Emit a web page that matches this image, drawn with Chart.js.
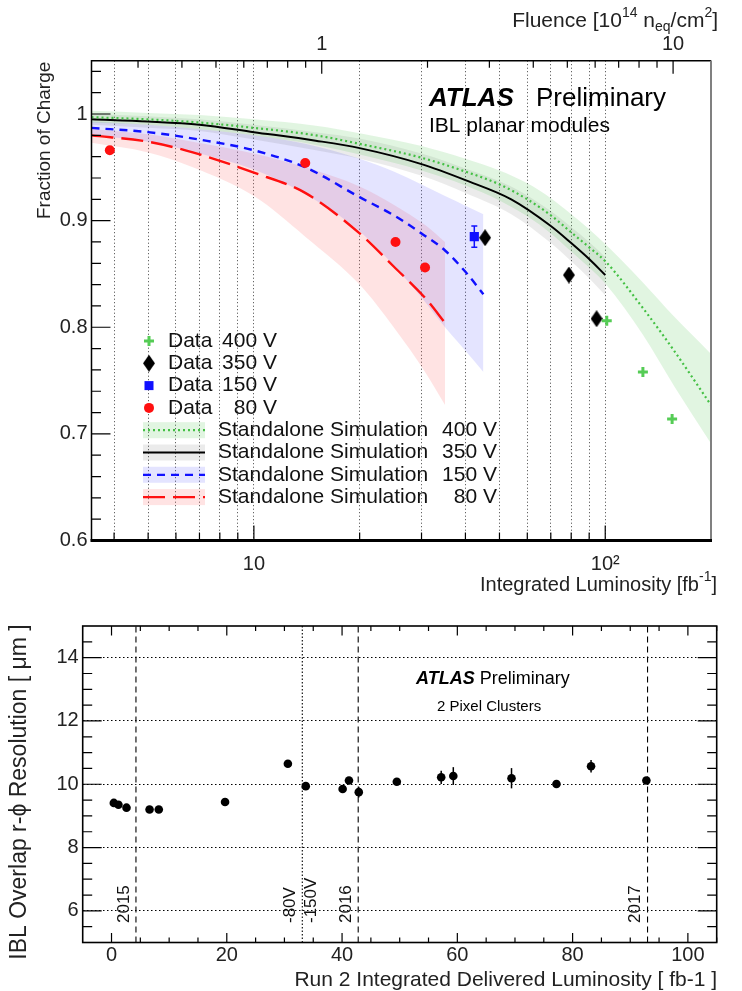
<!DOCTYPE html>
<html>
<head>
<meta charset="utf-8">
<script src="https://cdn.jsdelivr.net/npm/chart.js@4.4.0/dist/chart.umd.min.js"></script>
<style>
  html, body { margin: 0; padding: 0; background: #fff; }
  #wrap { position: relative; width: 742px; height: 991px; }
  canvas { position: absolute; left: 0; }
  #topChart { top: 0; }
  #botChart { top: 600px; }
</style>
</head>
<body>
<div id="wrap">
  <canvas id="topChart" width="742" height="600"></canvas>
  <canvas id="botChart" width="742" height="391"></canvas>
</div>
<script>
const FONT = '"Liberation Sans", Arial, Helvetica, sans-serif';
Chart.defaults.font.family = FONT;
Chart.defaults.color = '#000';
Chart.defaults.animation = false;

// ---------- top panel data (fraction of charge vs luminosity) ----------
const lumiPerFluence = 15.6;           // fb-1 per 1e14 neq/cm2
const lumiRange = [3.45, 200];
const chargeRange = [0.6, 1.05];
const lumiGrid = [4, 5, 6, 7, 8, 9, 10, 20, 30, 40, 50, 60, 70, 80, 90, 100, 200];
const chargeTicks = [0.6, 0.7, 0.8, 0.9, 1.0];
const fluenceLabels = [1, 10];
const fluenceMinor = [0.3, 0.4, 0.5, 0.6, 0.7, 0.8, 0.9, 2, 3, 4, 5, 6, 7, 8, 9];

const data400L = [101, 128, 155];
const data400Q = [0.806, 0.758, 0.714];
const data350L = [45.5, 78.8, 94.5];
const data350Q = [0.884, 0.849, 0.808];
const data150L = [42.4];
const data150Q = [0.885];
const data150Err = [0.010];
const data80L = [3.89, 14.0, 25.3, 30.7];
const data80Q = [0.966, 0.954, 0.880, 0.856];

const sim400L  = [3.45, 5, 7, 10, 15, 20, 30, 40, 50, 60, 70, 80, 90, 100, 128, 157, 200];
const sim400Q  = [0.997, 0.995, 0.992, 0.987, 0.980, 0.972, 0.959, 0.946, 0.934, 0.920, 0.905, 0.889, 0.875, 0.862, 0.818, 0.778, 0.727];
const sim400Hi = [1.003, 1.001, 0.999, 0.995, 0.989, 0.982, 0.970, 0.958, 0.947, 0.935, 0.921, 0.906, 0.892, 0.878, 0.842, 0.810, 0.775];
const sim400Lo = [0.992, 0.990, 0.986, 0.980, 0.971, 0.962, 0.947, 0.933, 0.919, 0.904, 0.888, 0.871, 0.856, 0.841, 0.793, 0.745, 0.691];

const sim350L  = [3.45, 5, 7, 10, 15, 20, 30, 40, 54, 70, 80, 90, 100];
const sim350Q  = [0.995, 0.993, 0.990, 0.983, 0.975, 0.968, 0.953, 0.938, 0.920, 0.895, 0.879, 0.864, 0.849];
const sim350Hi = [1.000, 0.998, 0.995, 0.990, 0.983, 0.977, 0.963, 0.949, 0.932, 0.909, 0.894, 0.880, 0.866];
const sim350Lo = [0.990, 0.987, 0.984, 0.976, 0.966, 0.958, 0.942, 0.926, 0.906, 0.879, 0.862, 0.846, 0.830];

const sim150L  = [3.45, 5, 7, 10, 14, 20, 25, 30, 35, 40, 45];
const sim150Q  = [0.987, 0.983, 0.976, 0.966, 0.950, 0.922, 0.905, 0.888, 0.872, 0.852, 0.831];
const sim150Hi = [0.993, 0.990, 0.986, 0.980, 0.972, 0.958, 0.946, 0.934, 0.923, 0.914, 0.906];
const sim150Lo = [0.980, 0.974, 0.963, 0.948, 0.925, 0.890, 0.858, 0.828, 0.800, 0.778, 0.758];

const sim80L  = [3.45, 5, 6.7, 10, 14, 20, 25, 31, 35];
const sim80Q  = [0.980, 0.974, 0.964, 0.945, 0.926, 0.888, 0.857, 0.826, 0.804];
const sim80Hi = [0.986, 0.981, 0.974, 0.963, 0.950, 0.932, 0.915, 0.895, 0.880];
const sim80Lo = [0.973, 0.964, 0.950, 0.923, 0.885, 0.840, 0.800, 0.756, 0.727];

// ---------- bottom panel data (IBL overlap resolution) ----------
const run2Lumi = [0.4, 1.2, 2.6, 6.6, 8.2, 19.7, 30.6, 33.7, 40.1, 41.2, 42.9, 49.5, 57.2, 59.3, 69.4, 77.2, 83.2, 92.8];
const resolution = [9.41, 9.35, 9.26, 9.20, 9.20, 9.44, 10.65, 9.94, 9.85, 10.12, 9.75, 10.08, 10.22, 10.26, 10.19, 10.01, 10.57, 10.12];
const resolutionErr = [0.05, 0.05, 0.05, 0.05, 0.05, 0.05, 0.06, 0.07, 0.07, 0.08, 0.17, 0.10, 0.21, 0.28, 0.32, 0.06, 0.20, 0.08];
const run2Range = [-5, 105];
const resRange = [5, 15];
const run2Ticks = [0, 20, 40, 60, 80, 100];
const resTicks = [6, 8, 10, 12, 14];
const eventLumi = [4.24, 33.1, 42.8, 93.0];
const eventText = ['2015', '-80V', '-150V', '2016', '2017'];
const eventTextAt = [4.24, 33.1, 33.1, 42.8, 93.0];
const eventTextSide = [-1, -1, 1, -1, -1];

const pts = (xs, ys) => xs.map((x, i) => ({ x: x, y: ys[i] }));

// tall diamond like ROOT marker 33
const diamond = document.createElement('canvas');
diamond.width = 12; diamond.height = 17;
(function () {
  const c = diamond.getContext('2d');
  c.fillStyle = '#000';
  c.beginPath(); c.moveTo(6, 0); c.lineTo(12, 8.5); c.lineTo(6, 17); c.lineTo(0, 8.5); c.closePath(); c.fill();
})();

const GREEN = '#44c044', GREENBAND = 'rgba(90,200,90,0.18)';
const GRAYBAND = 'rgba(0,0,0,0.08)';
const BLUE = '#1010ff', BLUEBAND = 'rgba(90,90,255,0.16)';
const RED = '#ff1010', REDBAND = 'rgba(255,90,90,0.17)';

function band(L, hi, lo, color) {
  return [
    { data: pts(L, hi), borderWidth: 0, pointRadius: 0, fill: '+1', backgroundColor: color, order: 3, cubicInterpolationMode: 'monotone' },
    { data: pts(L, lo), borderWidth: 0, pointRadius: 0, fill: false, order: 3, cubicInterpolationMode: 'monotone' }
  ];
}
function simLine(L, q, color, dash, w) {
  return { data: pts(L, q), borderColor: color, borderWidth: w, borderDash: dash, pointRadius: 0, fill: false, order: 2, cubicInterpolationMode: 'monotone' };
}

// draw "text" with super/subscripts: parts = [text, scale, dy]
function richText(ctx, parts, x, y, align, size) {
  let w = 0;
  parts.forEach(p => { ctx.font = Math.round(size * (p[1] || 1)) + 'px ' + FONT; w += ctx.measureText(p[0]).width; });
  let cx = align === 'right' ? x - w : x;
  ctx.textAlign = 'left';
  ctx.textBaseline = 'middle';
  parts.forEach(p => {
    ctx.font = Math.round(size * (p[1] || 1)) + 'px ' + FONT;
    ctx.fillText(p[0], cx, y + (p[2] || 0) * size);
    cx += ctx.measureText(p[0]).width;
  });
}

// error bars for datasets carrying errY
const errorBars = {
  id: 'errorBars',
  afterDatasetsDraw(chart) {
    const ctx = chart.ctx, y = chart.scales.y, x = chart.scales.x;
    chart.data.datasets.forEach(ds => {
      if (!ds.errY) return;
      ctx.save();
      ctx.strokeStyle = ds.errColor; ctx.lineWidth = 1.5;
      ds.data.forEach((p, i) => {
        const px = x.getPixelForValue(p.x);
        const y1 = y.getPixelForValue(p.y - ds.errY[i]), y2 = y.getPixelForValue(p.y + ds.errY[i]);
        ctx.beginPath(); ctx.moveTo(px, y1); ctx.lineTo(px, y2);
        if (ds.errCap) { ctx.moveTo(px - 3, y1); ctx.lineTo(px + 3, y1); ctx.moveTo(px - 3, y2); ctx.lineTo(px + 3, y2); }
        ctx.stroke();
      });
      ctx.restore();
    });
  }
};

// frame, inward ticks, titles and legend of the top panel
const topDecor = {
  id: 'topDecor',
  afterDraw(chart) {
    const { ctx, chartArea: a, scales: { x, y, x2 } } = chart;
    ctx.save();
    // ticks
    ctx.strokeStyle = '#000'; ctx.lineWidth = 1.2;
    ctx.beginPath();
    lumiGrid.forEach(v => {
      const p = x.getPixelForValue(v), len = (v === 10 || v === 100) ? 15 : 8;
      ctx.moveTo(p, a.bottom); ctx.lineTo(p, a.bottom - len);
    });
    for (let k = 30; k <= 52; k++) {
      const v = k / 50, p = y.getPixelForValue(v), len = (k % 5 === 0) ? 19 : 9.5;
      ctx.moveTo(a.left, p); ctx.lineTo(a.left + len, p);
    }
    fluenceLabels.forEach(v => { const p = x2.getPixelForValue(v); ctx.moveTo(p, a.top); ctx.lineTo(p, a.top + 13); });
    fluenceMinor.forEach(v => { const p = x2.getPixelForValue(v); ctx.moveTo(p, a.top); ctx.lineTo(p, a.top + 7); });
    ctx.stroke();
    // frame
    ctx.lineWidth = 1.5; ctx.strokeStyle = '#000';
    ctx.beginPath(); ctx.moveTo(a.left, a.bottom); ctx.lineTo(a.left, a.top); ctx.lineTo(a.right, a.top); ctx.stroke();
    ctx.strokeStyle = '#808080'; ctx.lineWidth = 2;
    ctx.beginPath(); ctx.moveTo(a.right, a.top); ctx.lineTo(a.right, a.bottom); ctx.stroke();
    ctx.strokeStyle = '#000'; ctx.lineWidth = 3;
    ctx.beginPath(); ctx.moveTo(a.left - 1, a.bottom); ctx.lineTo(a.right + 1, a.bottom); ctx.stroke();

    // axis titles
    ctx.fillStyle = '#222';
    richText(ctx, [['Fluence [10'], ['14', 0.7, -0.38], [' n'], ['eq', 0.7, 0.28], ['/cm'], ['2', 0.7, -0.38], [']']], 718, 21, 'right', 20.5);
    richText(ctx, [['Integrated Luminosity [fb'], ['-1', 0.7, -0.38], [']']], 717, 585, 'right', 19.5);
    ctx.save();
    ctx.translate(45, a.top + 1); ctx.rotate(-Math.PI / 2);
    ctx.font = '19px ' + FONT; ctx.textAlign = 'right'; ctx.textBaseline = 'middle';
    ctx.fillText('Fraction of Charge', 0, 0);
    ctx.restore();

    // ATLAS label
    ctx.fillStyle = '#000'; ctx.textAlign = 'left'; ctx.textBaseline = 'alphabetic';
    ctx.font = 'italic bold 26px ' + FONT; ctx.fillText('ATLAS', 429, 106);
    ctx.font = '26px ' + FONT; ctx.fillText('Preliminary', 536, 106);
    ctx.font = '21px ' + FONT; ctx.fillText('IBL planar modules', 429, 132);

    // legend
    const rowY = k => 341 + 22.3 * k;
    ctx.font = '21px ' + FONT; ctx.textBaseline = 'middle'; ctx.fillStyle = '#111';
    const dataRows = ['400 V', '350 V', '150 V', '80 V'];
    dataRows.forEach((t, k) => {
      ctx.textAlign = 'left'; ctx.fillText('Data', 168, rowY(k));
      ctx.textAlign = 'right'; ctx.fillText(t, 277, rowY(k));
    });
    // markers
    let my = rowY(0);
    ctx.strokeStyle = '#55cc55'; ctx.lineWidth = 3;
    ctx.beginPath(); ctx.moveTo(144, my); ctx.lineTo(154, my); ctx.moveTo(149, my - 5); ctx.lineTo(149, my + 5); ctx.stroke();
    ctx.drawImage(diamond, 149 - 6, rowY(1) - 8.5);
    ctx.fillStyle = BLUE; ctx.fillRect(144.5, rowY(2) - 4.5, 9, 9);
    ctx.fillStyle = RED; ctx.beginPath(); ctx.arc(149, rowY(3), 5, 0, Math.PI * 2); ctx.fill();

    const simRows = [['400 V', GREENBAND, GREEN, [2, 3]], ['350 V', GRAYBAND, '#000', []], ['150 V', BLUEBAND, BLUE, [8, 6]], ['80 V', REDBAND, RED, [22, 8]]];
    simRows.forEach((r, k) => {
      const yy = rowY(4 + k);
      ctx.fillStyle = r[1]; ctx.fillRect(143, yy - 8, 62, 16);
      ctx.strokeStyle = r[2]; ctx.lineWidth = 2.2; ctx.setLineDash(r[3]);
      ctx.beginPath(); ctx.moveTo(143, yy); ctx.lineTo(205, yy); ctx.stroke();
      ctx.setLineDash([]);
      ctx.fillStyle = '#111';
      ctx.textAlign = 'left'; ctx.fillText('Standalone Simulation', 218, yy);
      ctx.textAlign = 'right'; ctx.fillText(r[0], 497, yy);
    });
    ctx.restore();
  }
};

new Chart(document.getElementById('topChart'), {
  type: 'line',
  data: {
    datasets: [
      { data: pts(data400L, data400Q), showLine: false, pointStyle: 'cross', pointRadius: 5, pointBorderWidth: 3, pointBorderColor: '#55cc55', order: 0 },
      { data: pts(data350L, data350Q), showLine: false, pointStyle: diamond, order: 0 },
      { data: pts(data150L, data150Q), showLine: false, pointStyle: 'rect', pointRadius: 6.5, pointBackgroundColor: BLUE, pointBorderWidth: 0, order: 0,
        errY: data150Err, errColor: BLUE, errCap: true },
      { data: pts(data80L, data80Q), showLine: false, pointStyle: 'circle', pointRadius: 5, pointBackgroundColor: RED, pointBorderWidth: 0, order: 0 },
      simLine(sim400L, sim400Q, GREEN, [2, 3], 2.2),
      simLine(sim350L, sim350Q, '#000', [], 2),
      simLine(sim150L, sim150Q, BLUE, [8, 6], 2.4),
      simLine(sim80L, sim80Q, RED, [22, 8], 2.4),
      ...band(sim400L, sim400Hi, sim400Lo, GREENBAND),
      ...band(sim350L, sim350Hi, sim350Lo, GRAYBAND),
      ...band(sim150L, sim150Hi, sim150Lo, BLUEBAND),
      ...band(sim80L, sim80Hi, sim80Lo, REDBAND)
    ]
  },
  options: {
    responsive: false,
    maintainAspectRatio: false,
    layout: { padding: { left: 0, right: 31, top: 0, bottom: 0 } },
    plugins: { legend: { display: false }, tooltip: { enabled: false } },
    scales: {
      x: {
        type: 'logarithmic', position: 'bottom', min: lumiRange[0], max: lumiRange[1],
        afterBuildTicks: s => { s.ticks = lumiGrid.map(v => ({ value: v })); },
        afterFit: s => { s.height = 59.5; },
        ticks: { autoSkip: false, maxRotation: 0, padding: 12, font: { size: 20 }, color: '#222',
          callback: v => v === 10 ? '10' : (v === 100 ? '10²' : '') },
        grid: { color: 'rgba(0,0,0,0.75)', lineWidth: 1, drawTicks: false },
        border: { display: false, dash: [1, 2.5] }
      },
      x2: {
        type: 'logarithmic', position: 'top', min: lumiRange[0] / lumiPerFluence, max: lumiRange[1] / lumiPerFluence,
        afterBuildTicks: s => { s.ticks = fluenceLabels.map(v => ({ value: v })); },
        afterFit: s => { s.height = 60.7; },
        ticks: { autoSkip: false, maxRotation: 0, padding: 4, font: { size: 20 }, color: '#222', callback: v => String(v) },
        grid: { display: false, drawTicks: false },
        border: { display: false }
      },
      y: {
        type: 'linear', min: chargeRange[0], max: chargeRange[1],
        afterBuildTicks: s => { s.ticks = chargeTicks.map(v => ({ value: v })); },
        afterFit: s => { s.width = 91.5; },
        ticks: { padding: 4, font: { size: 20 }, color: '#222', callback: v => v === 1 ? '1' : v.toFixed(1) },
        grid: { display: false, drawTicks: false },
        border: { display: false }
      }
    }
  },
  plugins: [errorBars, topDecor]
});

// ---------- bottom panel ----------
const botDecor = {
  id: 'botDecor',
  afterDraw(chart) {
    const { ctx, chartArea: a, scales: { x, y } } = chart;
    ctx.save();
    ctx.strokeStyle = '#000'; ctx.lineWidth = 1.2;
    ctx.beginPath();
    for (let v = 0; v <= 105; v += 5) {
      const p = x.getPixelForValue(v), len = (v % 20 === 0) ? 9.5 : 5;
      ctx.moveTo(p, a.bottom); ctx.lineTo(p, a.bottom - len);
      ctx.moveTo(p, a.top); ctx.lineTo(p, a.top + len);
    }
    for (let k = 11; k <= 29; k++) {
      const v = k / 2, p = y.getPixelForValue(v), len = (k % 4 === 0) ? 19 : 9.5;
      ctx.moveTo(a.left, p); ctx.lineTo(a.left + len, p);
      ctx.moveTo(a.right, p); ctx.lineTo(a.right - len, p);
    }
    ctx.stroke();
    ctx.lineWidth = 1.6;
    ctx.strokeRect(a.left, a.top, a.right - a.left, a.bottom - a.top);

    // run period / bias labels
    ctx.font = '17px ' + FONT; ctx.fillStyle = '#111'; ctx.textBaseline = 'middle'; ctx.textAlign = 'left';
    eventText.forEach((t, i) => {
      const px = x.getPixelForValue(eventTextAt[i]) + (eventTextSide[i] < 0 ? -12 : 9);
      ctx.save(); ctx.translate(px, 323); ctx.rotate(-Math.PI / 2); ctx.fillText(t, 0, 0); ctx.restore();
    });

    // ATLAS label
    ctx.fillStyle = '#000'; ctx.textBaseline = 'middle';
    ctx.font = 'italic bold 18px ' + FONT; ctx.fillText('ATLAS', 416, 79.5);
    const wA = ctx.measureText('ATLAS').width;
    ctx.font = '18px ' + FONT; ctx.fillText('Preliminary', 416 + wA + 5, 79.5);
    ctx.font = '15px ' + FONT; ctx.fillText('2 Pixel Clusters', 437, 107);

    // axis titles
    ctx.fillStyle = '#222';
    ctx.font = '21px ' + FONT; ctx.textAlign = 'right';
    ctx.fillText('Run 2 Integrated Delivered Luminosity [ fb-1 ]', 717, 380);
    ctx.save(); ctx.translate(20, 192); ctx.rotate(-Math.PI / 2);
    ctx.font = '23px ' + FONT; ctx.textAlign = 'center';
    ctx.fillText('IBL Overlap r-ϕ Resolution [ μm ]', 0, 0);
    ctx.restore();
    ctx.restore();
  }
};

new Chart(document.getElementById('botChart'), {
  type: 'line',
  data: {
    datasets: [
      { data: pts(run2Lumi, resolution), showLine: false, pointStyle: 'circle', pointRadius: 4.3, pointBackgroundColor: '#000', pointBorderWidth: 0,
        errY: resolutionErr, errColor: '#000', errCap: false, order: 0 },
      ...eventLumi.map((v, i) => ({
        data: [{ x: v, y: resRange[0] }, { x: v, y: resRange[1] }], borderColor: '#000', borderWidth: 1.1,
        borderDash: i === 1 ? [1.5, 2] : [6, 4], pointRadius: 0, fill: false, order: 1
      }))
    ]
  },
  options: {
    responsive: false,
    maintainAspectRatio: false,
    layout: { padding: { left: 0, right: 25.3, top: 26, bottom: 0 } },
    plugins: { legend: { display: false }, tooltip: { enabled: false } },
    scales: {
      x: {
        type: 'linear', min: run2Range[0], max: run2Range[1],
        afterBuildTicks: s => { s.ticks = run2Ticks.map(v => ({ value: v })); },
        afterFit: s => { s.height = 48.5; },
        ticks: { autoSkip: false, maxRotation: 0, padding: 1, font: { size: 20 }, color: '#222' },
        grid: { display: false, drawTicks: false },
        border: { display: false }
      },
      y: {
        type: 'linear', min: resRange[0], max: resRange[1],
        afterBuildTicks: s => { s.ticks = resTicks.map(v => ({ value: v })); },
        afterFit: s => { s.width = 82.7; },
        ticks: { padding: 4, font: { size: 20 }, color: '#222' },
        grid: { color: '#000', lineWidth: 1, drawTicks: false },
        border: { display: false, dash: [1.5, 2.5] }
      }
    }
  },
  plugins: [errorBars, botDecor]
});
</script>
</body>
</html>
